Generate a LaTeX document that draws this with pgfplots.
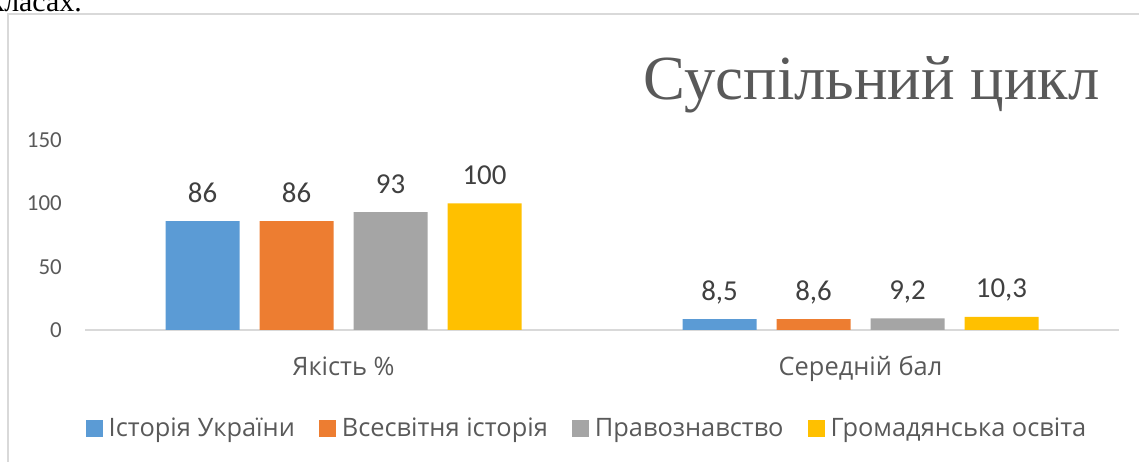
\documentclass[border=0pt]{standalone}
\usepackage{fontspec}
\setmainfont{Carlito}
\newfontfamily\seriffont{Liberation Serif}
\newfontfamily\cyrfont{Open Sans}
\usepackage{pgfplots}
\pgfplotsset{compat=1.18}
\definecolor{cBlue}{HTML}{5B9BD5}
\definecolor{cOrange}{HTML}{ED7D31}
\definecolor{cGray}{HTML}{A5A5A5}
\definecolor{cGold}{HTML}{FFC000}
\definecolor{txt}{HTML}{595959}
\definecolor{lbl}{HTML}{404040}
\definecolor{frame}{HTML}{D9D9D9}
\begin{document}
\begin{tikzpicture}[x=1bp,y=1bp]
\useasboundingbox (0,0) rectangle (1139,462);
\draw[color=frame, line width=1.5bp] (8,-5) -- (8,448) -- (1145,448);
\node[anchor=base east, inner sep=0, font=\seriffont\fontsize{30}{36}\selectfont] at (82,450) {класах.};
\node[anchor=base east, text=txt, inner sep=0, font=\seriffont\fontsize{63}{70}\selectfont] at (1100,362) {Суспільний цикл};
\begin{axis}[
  at={(85bp,132bp)}, anchor=south west,
  scale only axis, width=1034bp, height=190bp,
  xmin=-0.5, xmax=1.5, ymin=0, ymax=150,
  axis x line*=bottom, axis y line*=left,
  x axis line style={draw=frame, line width=1.3bp, -},
  y axis line style={draw=none},
  major tick length=0,
  xtick={0,1}, xticklabels={Якість \%, Середній бал},
  ytick={0,50,100,150},
  /pgf/number format/assume math mode=true,
  tick label style={font=\fontsize{23}{27}\selectfont, text=txt},
  xticklabel style={anchor=base, yshift=-46bp, font=\cyrfont\fontsize{25.5}{30}\selectfont},
  yticklabel style={anchor=east, inner sep=0, xshift=-23bp},
  ybar=20bp, bar width=74bp,
  point meta=explicit symbolic,
  nodes near coords,
  every node near coord/.append style={anchor=base, inner sep=0, yshift=19bp, font=\fontsize{29}{34}\selectfont, text=lbl},
  legend columns=4,
  legend style={draw=none, fill=none, at={(0.4855,-0.516)}, anchor=center,
    font=\cyrfont\fontsize{25.5}{30}\selectfont, text=txt,
    /tikz/every even column/.append style={column sep=22bp}},
  legend image code/.code={\fill[#1, draw=none] (0bp,-9bp) rectangle (17bp,8bp); \path (21bp,0bp);},
]
\addplot[fill=cBlue, draw=none] coordinates {(0,86)[86] (1,8.5)[{8,5}]};
\addplot[fill=cOrange, draw=none] coordinates {(0,86)[86] (1,8.6)[{8,6}]};
\addplot[fill=cGray, draw=none] coordinates {(0,93)[93] (1,9.2)[{9,2}]};
\addplot[fill=cGold, draw=none] coordinates {(0,100)[100] (1,10.3)[{10,3}]};
\legend{Історія України, Всесвітня історія, Правознавство, Громадянська освіта}
\end{axis}
\end{tikzpicture}
\end{document}
